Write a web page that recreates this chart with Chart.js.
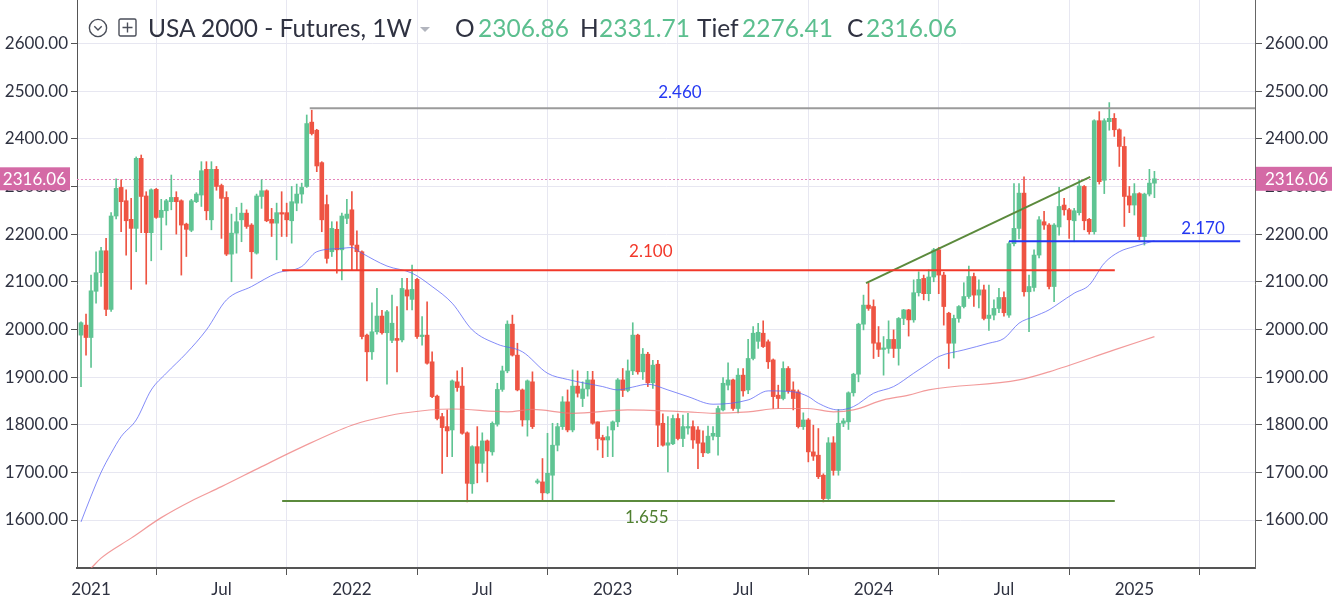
<!DOCTYPE html>
<html><head><meta charset="utf-8">
<script src="https://cdn.jsdelivr.net/npm/chart.js@4.4.1/dist/chart.umd.min.js"></script>
<style>
html,body{margin:0;padding:0;background:#fff;}
#wrap{position:relative;width:1332px;height:607px;overflow:hidden;background:#fff;}
#c{position:absolute;left:0;top:0;}
.t,.g{position:absolute;top:13px;font-family:Lato,'Open Sans',sans-serif;font-size:24.5px;line-height:30px;white-space:nowrap;}
.t{color:#2f3241;}
.g{color:#5cbf8f;}
.ic{position:absolute;}
</style></head>
<body>
<div id="wrap">
<canvas id="c" width="1332" height="607"></canvas>
<svg class="ic" style="left:88px;top:18px" width="20" height="20"><circle cx="10" cy="10" r="8.6" fill="none" stroke="#4a4e59" stroke-width="1.4"/><path d="M6.3 8.3 L10 12 L13.7 8.3" fill="none" stroke="#4a4e59" stroke-width="1.4"/></svg>
<svg class="ic" style="left:118px;top:18px" width="19" height="19"><rect x="1" y="1" width="17" height="17" rx="1.5" fill="none" stroke="#4a4e59" stroke-width="1.4"/><path d="M9.5 4.5 V14.5 M4.5 9.5 H14.5" stroke="#4a4e59" stroke-width="1.4"/></svg>
<span class="t" style="left:148px">USA 2000 - Futures, 1W</span>
<svg class="ic" style="left:420px;top:27px" width="10" height="6"><polygon points="0,0 10,0 5,5" fill="#b2b5be"/></svg>
<span class="t" style="left:455px">O</span><span class="g" style="left:478px">2306.86</span>
<span class="t" style="left:580px">H</span><span class="g" style="left:599px">2331.71</span>
<span class="t" style="left:697px">Tief</span><span class="g" style="left:742px">2276.41</span>
<span class="t" style="left:847px">C</span><span class="g" style="left:866px">2316.06</span>
</div>
<script>
// ---- weekly candles, index 0 = week of 21 Dec 2020 ----
const open = [
1988,2009,1983,2080,2119,2165,2042,2238,2298,2270,
2231,2212,2359,2280,2203,2294,2235,2249,2268,2277,
2270,2221,2208,2268,2282,2336,2230,2336,2302,2277,
2158,2202,2230,2244,2219,2160,2279,2291,2231,2223,
2245,2245,2228,2265,2284,2300,2435,2418,2350,2262,
2163,2210,2167,2233,2251,2177,2163,1988,1953,1995,
2028,1993,1977,1981,1978,2083,2063,2105,1985,1988,
1932,1860,1817,1796,1789,1890,1881,1783,1676,1754,
1719,1766,1743,1801,1874,1913,2011,1946,1873,1810,
1890,1679,1680,1657,1694,1757,1796,1848,1789,1881,
1855,1875,1894,1806,1773,1768,1789,1806,1894,1872,
1913,1988,1911,1948,1888,1927,1803,1757,1760,1813,
1771,1793,1796,1789,1762,1741,1776,1775,1831,1883,
1894,1834,1904,1873,1939,1975,1992,1974,1936,1862,
1855,1918,1873,1869,1796,1810,1743,1736,1694,1645,
1762,1704,1803,1806,1867,1906,2011,2051,2048,1972,
1958,1960,1979,1960,2023,2041,2020,2077,2107,2075,
2110,2167,2114,2034,1971,2023,2048,2069,2111,2072,
2083,2023,2030,2044,2067,2030,2180,2212,2286,2079,
2088,2156,2226,2219,2090,2215,2261,2251,2228,2245,
2300,2231,2205,2438,2313,2436,2443,2419,2384,2280,
2261,2285,2195,2284,2306.86];
const high = [
2016,2032,2114,2163,2172,2191,2245,2316,2314,2293,
2275,2362,2366,2289,2295,2296,2273,2273,2324,2289,
2272,2223,2273,2287,2352,2352,2352,2342,2305,2289,
2242,2256,2265,2251,2222,2284,2314,2293,2254,2265,
2289,2265,2300,2305,2307,2450,2460,2420,2352,2282,
2226,2226,2244,2273,2289,2207,2165,1990,2056,2086,
2040,2040,2072,2048,2107,2107,2135,2107,2027,2058,
1953,1862,1824,1831,1894,1913,1920,1785,1756,1796,
1783,1768,1806,1887,1923,2018,2030,1971,1875,1894,
1911,1686,1729,1782,1803,1803,1859,1873,1915,1913,
1890,1912,1912,1806,1778,1796,1808,1897,1918,1936,
2014,1990,1960,1952,1935,1935,1823,1817,1820,1823,
1820,1824,1808,1796,1787,1797,1796,1839,1899,1930,
1896,1918,1918,1979,2006,2013,2018,1978,1938,1883,
1932,1922,1890,1873,1825,1813,1799,1792,1697,1773,
1775,1832,1813,1869,1908,2013,2072,2097,2062,2006,
1985,2018,1999,2025,2042,2042,2104,2121,2114,2125,
2170,2172,2120,2036,2030,2050,2098,2133,2118,2104,
2093,2093,2062,2086,2079,2184,2306,2306,2320,2114,
2167,2237,2248,2222,2222,2298,2275,2254,2254,2314,
2302,2233,2440,2457,2442,2476,2453,2421,2404,2300,
2306,2287,2286,2336,2331.71];
const low = [
1880,1946,1920,2055,2090,2029,2038,2232,2205,2156,
2084,2163,2203,2095,2144,2233,2167,2219,2251,2200,
2114,2153,2205,2266,2258,2230,2209,2292,2191,2155,
2100,2160,2184,2212,2107,2158,2254,2226,2195,2146,
2195,2195,2181,2249,2265,2298,2408,2331,2205,2139,
2153,2118,2104,2222,2125,2125,1980,1892,1937,1990,
1990,1885,1972,1911,1974,2041,2041,1981,1967,1927,
1857,1810,1698,1733,1733,1870,1780,1638,1656,1678,
1700,1680,1736,1797,1870,1909,1944,1871,1797,1776,
1792,1676,1642,1655,1642,1745,1790,1785,1785,1858,
1838,1860,1801,1747,1731,1733,1733,1796,1859,1869,
1905,1906,1895,1880,1876,1754,1755,1701,1758,1768,
1754,1780,1750,1708,1733,1740,1768,1736,1829,1873,
1830,1825,1860,1865,1936,1960,1962,1918,1834,1834,
1852,1866,1831,1793,1790,1722,1725,1687,1638,1643,
1694,1694,1796,1790,1860,1890,1999,2040,1939,1943,
1904,1950,1941,1925,2010,1986,2015,2070,2062,2060,
2100,2075,2009,1918,1940,2015,2045,2065,2048,2045,
2020,1998,2020,2035,2028,2025,2175,2190,2070,1995,
2080,2150,2210,2085,2058,2198,2240,2191,2184,2240,
2209,2200,2200,2305,2285,2418,2405,2342,2216,2245,
2240,2188,2177,2280,2276.41];
const close = [
2014,1983,2081,2119,2165,2042,2238,2296,2268,2228,
2212,2359,2279,2203,2293,2235,2250,2270,2277,2268,
2219,2210,2270,2284,2333,2249,2336,2300,2275,2158,
2202,2226,2244,2216,2163,2280,2291,2228,2223,2245,
2242,2230,2268,2284,2298,2432,2411,2343,2230,2149,
2212,2167,2238,2242,2177,2163,1985,1953,1995,2028,
1993,2037,2013,1977,2086,2070,2084,1985,1988,1929,
1859,1813,1794,1787,1892,1878,1782,1677,1754,1719,
1766,1745,1803,1874,1913,2011,1946,1873,1810,1892,
1796,1682,1657,1698,1757,1796,1848,1789,1881,1866,
1875,1894,1803,1771,1768,1775,1806,1894,1872,1913,
1988,1911,1948,1888,1925,1799,1757,1762,1813,1771,
1796,1796,1768,1761,1741,1776,1782,1834,1887,1894,
1834,1904,1871,1939,1992,1994,1964,1932,1859,1855,
1918,1871,1855,1796,1810,1743,1734,1691,1645,1762,
1704,1803,1808,1867,1906,2011,2051,2044,1971,1958,
1960,1979,1960,2023,2041,2020,2077,2105,2075,2110,
2167,2114,2048,1971,2023,2048,2069,2111,2072,2083,
2023,2030,2044,2067,2035,2180,2212,2286,2079,2090,
2156,2230,2219,2090,2219,2258,2251,2230,2249,2301,
2228,2205,2438,2310,2438,2443,2419,2384,2279,2261,
2285,2195,2284,2307,2316.06];

// moving averages (week index, value)
const maBlueWeek = [0,2,4,6,8,11,14,17,21,25,29,34,39,44,47,52,54,56,61,66,70,74,78,83,88,93,97,104,107,110,113,117,121,126,133,137,142,145,147,151,154,158,162,166,169,171,176,181,184,187,190,193,195,198,201,204,207,210,214];
const maBlue     = [1596,1650,1700,1740,1775,1810,1873,1908,1950,1999,2062,2090,2118,2132,2163,2170,2172,2160,2133,2118,2090,2055,1999,1969,1953,1908,1895,1880,1873,1879,1885,1873,1859,1843,1852,1871,1869,1859,1845,1831,1838,1866,1880,1908,1929,1943,1957,1971,1981,2013,2027,2041,2055,2076,2093,2139,2163,2174,2186];
const maRedWeek = [0,2,4,10,16,22,28,36,44,54,58,64,74,85,90,98,109,121,126,133,139,145,150,154,160,165,169,187,193,206,214];
const maRed     = [1480,1499,1520,1562,1605,1640,1670,1712,1753,1799,1811,1824,1833,1827,1832,1824,1831,1827,1824,1827,1834,1834,1827,1831,1852,1862,1873,1894,1911,1957,1985];

// horizontal levels: value, start week, end week, label
const levelValue = [2464, 2124, 1640, 2185];
const levelFrom  = [45.6, 40.1, 40.1, 185];
const levelTo    = [234.1, 206.1, 206.1, 231.1];
const levelText  = ['2.460', '2.100', '1.655', '2.170'];
// rising trend line: start/end week and value
const trendWeek  = [156.5, 201.2];
const trendValue = [2097, 2320];

// time axis ticks
const tickWeeks  = [2, 28, 54, 80, 106, 132, 158, 184, 210];
const tickLabels = ['2021','Jul','2022','Jul','2023','Jul','2024','Jul','2025'];
const yTicks = [1600,1700,1800,1900,2000,2100,2200,2300,2400,2500,2600];
const lastPrice = 2316.06;

// ---- styles ----
const UP = '#5fc493', DOWN = '#ee5443';
const levelColor = ['#9b9b9b', '#f2382a', '#5b8a3c', '#2438f2'];
const levelLabelColor = ['#2438f2', '#f2382a', '#4f7f2f', '#2438f2'];
const levelLabelWeek = [119.4, 113.6, 112.8, 223.7];
const levelLabelDy = [-16, -19, 17, -13];
const FONT = "Lato, 'Open Sans', sans-serif";

const idx = open.map((_, i) => i);
const colorOf = i => (close[i] >= open[i] ? UP : DOWN);

const datasets = [
  { type:'bar', data: idx.map(i => ({x:i, y:[low[i], high[i]]})),
    backgroundColor: c => colorOf(c.dataIndex), barThickness: 1, grouped:false, order: 5 },
  { type:'bar', data: idx.map(i => ({x:i, y:[open[i], close[i]]})),
    backgroundColor: c => colorOf(c.dataIndex), barThickness: 4, grouped:false, minBarLength: 1.5, order: 4 },
  { type:'line', data: maBlueWeek.map((w,k)=>({x:w, y:maBlue[k]})), borderColor:'rgba(90,100,245,0.75)',
    borderWidth:1, pointRadius:0, cubicInterpolationMode:'monotone', order: 3 },
  { type:'line', data: maRedWeek.map((w,k)=>({x:w, y:maRed[k]})), borderColor:'rgba(238,120,120,0.75)',
    borderWidth:1.2, pointRadius:0, cubicInterpolationMode:'monotone', order: 3 },
];
levelValue.forEach((v,k) => datasets.push({
  type:'line', data:[{x:levelFrom[k], y:v},{x:levelTo[k], y:v}], borderColor: levelColor[k],
  borderWidth: 2, pointRadius:0, order: 1 }));
datasets.push({ type:'line', data: trendWeek.map((w,k)=>({x:w, y:trendValue[k]})), borderColor:'#5b8a3c',
  borderWidth: 2, pointRadius:0, order: 1 });

const overlay = {
  id: 'overlay',
  beforeDatasetsDraw(chart) {
    const {ctx, chartArea:a, scales:{y}} = chart;
    const py = Math.round(y.getPixelForValue(lastPrice)) + 0.5;
    ctx.save();
    ctx.strokeStyle = '#e584bb'; ctx.lineWidth = 1; ctx.setLineDash([2,2]);
    ctx.beginPath(); ctx.moveTo(a.left, py); ctx.lineTo(a.right, py); ctx.stroke();
    ctx.restore();
  },
  afterDatasetsDraw(chart) {
    const {ctx, scales:{x,y}} = chart;
    ctx.save();
    ctx.font = '17px ' + FONT; ctx.textAlign = 'center'; ctx.textBaseline = 'middle';
    levelText.forEach((t,k) => {
      ctx.fillStyle = levelLabelColor[k];
      ctx.fillText(t, x.getPixelForValue(levelLabelWeek[k]), y.getPixelForValue(levelValue[k]) + levelLabelDy[k]);
    });
    ctx.restore();
  },
  afterDraw(chart) {
    const {ctx, scales:{y}} = chart;
    const py = y.getPixelForValue(lastPrice);
    ctx.save();
    ctx.fillStyle = '#d46aa6';
    ctx.fillRect(0, py - 11.5, 70, 23);
    ctx.fillRect(1256, py - 12, 76, 24);
    ctx.fillStyle = '#ffffff'; ctx.font = '17px ' + FONT; ctx.textBaseline = 'middle';
    ctx.textAlign = 'right'; ctx.fillText(lastPrice.toFixed(2), 66, py + 1);
    ctx.textAlign = 'left'; ctx.fillText(lastPrice.toFixed(2), 1265, py + 1);
    ctx.restore();
  }
};

const noPad = s => { s.paddingTop = 0; s.paddingBottom = 0; s.paddingLeft = 0; s.paddingRight = 0; };
const yCommon = {
  type:'linear', min:1499.3, max:2691.3,
  afterBuildTicks: s => { s.ticks = yTicks.map(v => ({value:v})); },
  ticks: { callback: v => Number(v).toFixed(2), color:'#2f3241', font:{family:FONT, size:17}, padding:3 },
};

function draw() {
  new Chart(document.getElementById('c'), {
    type: 'bar',
    data: { datasets },
    plugins: [overlay],
    options: {
      responsive:false, animation:false, events:[],
      layout:{ padding:0 },
      plugins:{ legend:{display:false}, tooltip:{enabled:false} },
      scales: {
        x: { type:'linear', min:-0.8, max:234.05, offset:false,
          afterBuildTicks: s => { s.ticks = tickWeeks.map(v => ({value:v})); },
          afterFit: s => { s.height = 39; noPad(s); },
          ticks: { callback: (v, i) => tickLabels[i], autoSkip:false, maxRotation:0, color:'#2f3241',
                   font:{family:FONT, size:17}, padding:4 },
          grid: { color:'#e7e7f1', tickColor:'#555', tickLength:7 },
          border: { color:'#555', width:2 } },
        y: Object.assign({}, yCommon, { position:'left',
          afterFit: s => { s.width = 77; noPad(s); },
          grid: { color:'#e7e7f1', tickColor:'#555', tickLength:6 },
          border: { color:'#555', width:1 } }),
        y2: Object.assign({}, yCommon, { position:'right',
          afterFit: s => { s.width = 77; noPad(s); },
          grid: { drawOnChartArea:false, tickColor:'#555', tickLength:7 },
          border: { color:'#666', width:1 } })
      }
    }
  });
}
if (document.fonts && document.fonts.load) {
  Promise.all([document.fonts.load('17px Lato'), document.fonts.load('25px Lato')]).then(draw, draw);
} else { draw(); }
</script>
</body></html>
